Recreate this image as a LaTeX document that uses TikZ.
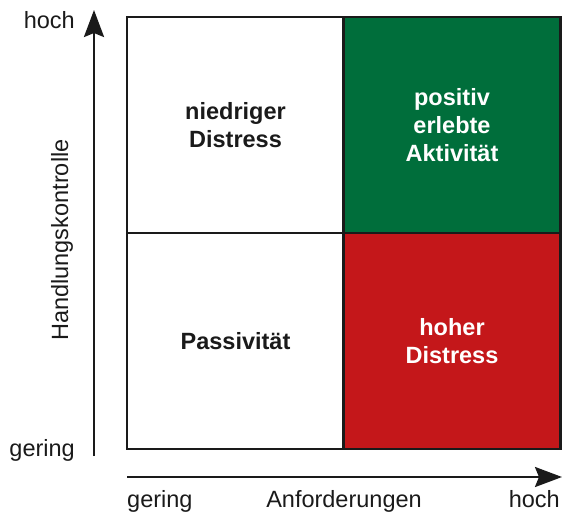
\documentclass[tikz,border=0pt]{standalone}
\usepackage{fontspec}
\setmainfont{Liberation Sans}
\usetikzlibrary{arrows.meta}
\definecolor{gruen}{HTML}{006E3B}
\definecolor{rot}{HTML}{C4171A}
\definecolor{tinte}{HTML}{1A1A1A}
\begin{document}
\begin{tikzpicture}[x=1pt,y=-1pt,
  cell/.style={draw=tinte,line width=2.2pt,minimum width=217pt,minimum height=216pt,
    inner sep=0pt,align=center,font=\fontsize{23.5}{28}\selectfont\bfseries},
  axis/.style={draw=tinte,line width=2.6pt,-{Stealth[length=27pt,width=20pt,inset=4pt]}},
  lbl/.style={text=tinte,font=\fontsize{23.5}{28}\selectfont,inner sep=0pt}]
\useasboundingbox (0,0) rectangle (562,515);
% quadrant cells
\node[cell,fill=white,text=tinte] (nd) at (235.5,125) {niedriger\\Distress};
\node[cell,fill=gruen,text=white] (pa) at (452,125) {positiv\\erlebte\\Aktivität};
\node[cell,fill=white,text=tinte] (ps) at (235.5,341) {Passivität};
\node[cell,fill=rot,text=white] (hd) at (452,341) {hoher\\Distress};
% axes
\coordinate (y0) at (94,456);
\coordinate (y1) at (94,10);
\coordinate (x0) at (127,477);
\coordinate (x1) at (562,477);
\draw[axis] (y0) -- (y1);
\draw[axis] (x0) -- (x1);
% axis labels
\node[lbl,anchor=base east] (yh) at (75,28) {hoch};
\node[lbl,anchor=base east] (yg) at (75,456) {gering};
\node[lbl,rotate=90] (yt) at (62,240) {Handlungskontrolle};
\node[lbl,anchor=base west] (xg) at (127,507) {gering};
\node[lbl,anchor=base] (xt) at (344,507) {Anforderungen};
\node[lbl,anchor=base east] (xh) at (560,507) {hoch};
\end{tikzpicture}
\end{document}
